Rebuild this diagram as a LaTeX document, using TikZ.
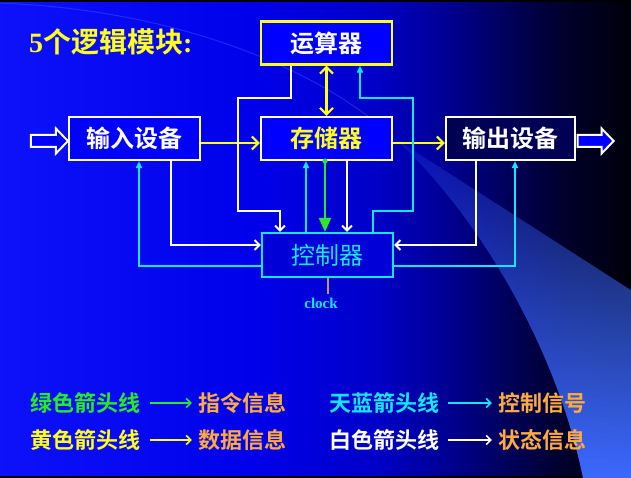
\documentclass[tikz,border=0pt]{standalone}
\usepackage{fontspec}
\usetikzlibrary{arrows.meta,fadings,calc}
\newfontfamily\cjk{Noto Sans CJK SC}[BoldFont={Noto Sans CJK SC Bold}]
\newfontfamily\tms{Liberation Serif}

\definecolor{slideblue}{RGB}{0,0,255}
\definecolor{ctlfill}{RGB}{0,0,215}
\definecolor{outfill}{RGB}{0,0,85}
\definecolor{yel}{RGB}{255,255,30}
\definecolor{cya}{RGB}{20,230,255}
\definecolor{grn}{RGB}{40,235,40}
\definecolor{org}{RGB}{255,170,60}
\definecolor{clk}{RGB}{200,150,100}
\definecolor{beamblue}{RGB}{60,105,255}

% background: bright blue on the left, fading to black on the right
\pgfdeclarehorizontalshading{slidebg}{100bp}{%
  rgb(0bp)=(0.05,0.07,0.98); rgb(25bp)=(0.05,0.07,0.98);
  rgb(45bp)=(0,0,0.92); rgb(55bp)=(0,0,0.78); rgb(61bp)=(0,0,0.55);
  rgb(66bp)=(0,0,0.32); rgb(70bp)=(0,0,0.16); rgb(75bp)=(0,0,0.04);
  rgb(100bp)=(0,0,0.04)}

\tikzfading[name=beamfade, top color=transparent!85,
  middle color=transparent!15, bottom color=transparent!0]

\tikzset{
  ybarb/.tip={Straight Barb[length=6.5pt,width=13pt,line width=2.2pt]},
  wbarb/.tip={Straight Barb[length=5pt,width=10pt,line width=1.9pt]},
  ctri/.tip={Triangle[length=7pt,width=6pt]},
  gtri/.tip={Triangle[length=14pt,width=12pt]},
  lbarb/.tip={Straight Barb[length=4.5pt,width=9pt,line width=1.6pt]}
}

\begin{document}
\begin{tikzpicture}[x=1pt,y=-1pt,
  box/.style={line width=2.2pt, inner sep=0pt, minimum width=131pt,
    minimum height=43pt, font=\cjk\bfseries\fontsize{24}{27}\selectfont},
  wire/.style={line width=2.3pt},
  ywire/.style={wire, draw=yel},
  wwire/.style={wire, draw=white, -wbarb},
  cwire/.style={wire, draw=cya, -ctri},
  blockarrow/.style={draw=white, line width=2pt, line join=miter},
  lg/.style={inner sep=0pt, font=\cjk\bfseries\fontsize{22}{24}\selectfont},
  legarrow/.style={line width=1.6pt, -lbarb}
]
\useasboundingbox (0,0) rectangle (631,478);

% slide background
\shade[shading=slidebg] (0,0) rectangle (631,478);
\fill[black] (0,0) rectangle (631,2);
\fill[black] (0,476) rectangle (631,478);

% light beam and its faint edge
\fill[beamblue, path fading=beamfade] (393,137) -- (631,290) -- (631,478) -- (583,478)
  .. controls (555,340) and (470,205) .. (393,137) -- cycle;
\draw[beamblue, opacity=0.4, line width=1pt] (0,3) .. controls (180,10) and (320,70) .. (393,137);

% title
\node[anchor=west, inner sep=0pt, text=yel] (title) at (29,42)
  {\fontsize{28}{31}\selectfont{\tms\bfseries 5}{\cjk\bfseries 个逻辑模块}{\tms\bfseries :}};

% the five modules
\node[box, draw=yel, fill=slideblue, text=white] (alu) at (326.5,43) {运算器};
\node[box, draw=white, fill=slideblue, text=yel] (mem) at (326.5,138.5) {存储器};
\node[box, draw=white, fill=slideblue, text=white] (inp) at (134.5,138.5) {输入设备};
\node[box, draw=white, fill=outfill, text=white, minimum width=129pt] (out) at (510.5,138.5) {输出设备};
\node[box, draw=cya, fill=ctlfill, text=cya, minimum height=44pt,
  font=\cjk\fontsize{24}{27}\selectfont] (ctl) at (327.5,255) {控制器};

% clock input
\node[inner sep=0pt, text=cya, font=\tms\bfseries\fontsize{15}{16}\selectfont] (clock) at (321,303) {clock};
\draw[clk, line width=1.6pt] ([xshift=0.5pt]ctl.south) -- ([xshift=0.5pt]ctl.south |- 0,294);

% hollow block arrows in and out
\draw[blockarrow, fill=slideblue]
  (inp.west |- 0,141) -- ++(-12,-12.5) -- ++(0,6.5) -- ++(-25,0) -- ++(0,12)
  -- ++(25,0) -- ++(0,6.5) -- cycle;
\coordinate (outtail) at ($(out.east |- 0,141)+(1.5,0)$);
\draw[blockarrow, fill=slideblue]
  (outtail) -- ++(0,-6) -- ++(24,0) -- ++(0,-6.5) -- ++(12,12.5) -- ++(-12,12.5)
  -- ++(0,-6.5) -- ++(-24,0) -- cycle;

% column and row guides for the wiring
\coordinate (c139) at (139,0); \coordinate (c171) at (171,0);
\coordinate (c238) at (238,0); \coordinate (c280) at (280,0);
\coordinate (c291) at (291,0); \coordinate (c306) at (306,0);
\coordinate (c325) at (325,0); \coordinate (c347) at (347,0);
\coordinate (c360) at (360,0); \coordinate (c373) at (373,0);
\coordinate (c413) at (413,0); \coordinate (c476) at (476,0);
\coordinate (c515) at (515,0);
\coordinate (r98) at (0,98);   \coordinate (r143) at (0,143);
\coordinate (r211) at (0,211); \coordinate (r245) at (0,245);
\coordinate (r266) at (0,266);

% data (yellow)
\draw[ywire, -ybarb] (inp.east |- r143) -- (mem.west |- r143);
\draw[ywire, -ybarb] (mem.east |- r143) -- (out.west |- r143);
\draw[ywire, ybarb-ybarb] (alu.south) -- (mem.north);

% instructions (green)
\fill[grn] (mem.south -| c325) circle (2.6);
\draw[wire, draw=grn, -gtri] (mem.south -| c325) -- (ctl.north -| c325);

% status (white)
\draw[wwire] (inp.south -| c171) -- (c171 |- r245) -- (ctl.west |- r245);
\draw[wwire] (out.south -| c476) -- (c476 |- r245) -- (ctl.east |- r245);
\draw[wwire] (mem.south -| c347) -- (ctl.north -| c347);
\draw[wwire] (alu.south -| c291) -- (c291 |- r98) -- (c238 |- r98) -- (c238 |- r211)
  -- (c280 |- r211) -- (ctl.north -| c280);

% control (cyan)
\draw[cwire] (ctl.north -| c306) -- (mem.south -| c306);
\draw[cwire] (ctl.north -| c373) -- (c373 |- r211) -- (c413 |- r211) -- (c413 |- r98)
  -- (c360 |- r98) -- (alu.south -| c360);
\draw[cwire] (ctl.west |- r266) -- (c139 |- r266) -- (inp.south -| c139);
\draw[cwire] (ctl.east |- r266) -- (c515 |- r266) -- (out.south -| c515);

% legend
\node[lg, text=grn] (lg1) at (85.5,403) {绿色箭头线};
\node[lg, text=org] (lm1) at (242,403) {指令信息};
\node[lg, text=cya] (lg2) at (384,403) {天蓝箭头线};
\node[lg, text=org] (lm2) at (542,403) {控制信号};
\node[lg, text=yel] (lg3) at (85.5,440) {黄色箭头线};
\node[lg, text=org] (lm3) at (242,440) {数据信息};
\node[lg, text=white] (lg4) at (384,440) {白色箭头线};
\node[lg, text=org] (lm4) at (542,440) {状态信息};
\draw[legarrow, grn] ([xshift=9pt]lg1.east) -- ([xshift=-6pt]lm1.west);
\draw[legarrow, cya] ([xshift=9pt]lg2.east) -- ([xshift=-6pt]lm2.west);
\draw[legarrow, yel] ([xshift=9pt]lg3.east) -- ([xshift=-6pt]lm3.west);
\draw[legarrow, white] ([xshift=9pt]lg4.east) -- ([xshift=-6pt]lm4.west);
\end{tikzpicture}
\end{document}
